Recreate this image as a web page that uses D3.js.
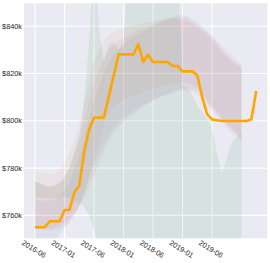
<!DOCTYPE html>
<html>
<head>
<meta charset="utf-8">
<script src="https://cdn.jsdelivr.net/npm/d3@7"></script>
<style>
body { margin: 0; background: #fff; }
svg { display: block; }
text { font-family: "Liberation Sans", Arial, sans-serif; fill: #262626; }
</style>
</head>
<body>
<svg width="270" height="263"></svg>
<script>
// x is a month index, 0 = 2016-06
const tickMonths = [0, 6, 12, 18, 24, 30, 36];
const tickLabels = ["2016-06", "2017-01", "2017-06", "2018-01", "2018-06", "2019-01", "2019-06"];
const yTicks = [760, 780, 800, 820, 840];

// monthly value, $k
const actual = [755, 755, 755, 757.5, 757.5, 757.5, 762.3, 762.3, 769.8, 772.6,
  787, 796.3, 801.4, 801.4, 801.4, 810.1, 819.2, 828.1, 828.1, 828.1,
  828.1, 832.4, 824.9, 828, 824.9, 824.9, 824.9, 824.9, 823.2, 823.2,
  820.9, 820.9, 820.9, 819.3, 810, 802.8, 800.6, 800.2, 799.9, 799.9,
  799.9, 799.9, 799.9, 799.9, 800.6, 812.6];

// forecast bands, sampled every 3 months
const bandMonths = [0, 3, 6, 9, 12, 15, 18, 21, 24, 27, 30, 33, 36, 39, 42];
const blueLow = [747.3, 748.1, 754.5, 764.2, 781.2, 793.9, 801.1, 805.3, 808.7, 811.2, 813.8, 812.9, 806.1, 798.9, 792.6];
const blueHigh = [766.3, 766.3, 770.6, 785.4, 808.7, 824.8, 832.4, 836.6, 840, 843, 844.7, 841.7, 835.8, 828.1, 823.1];
const orangeLow = [754.5, 753.6, 755.8, 764.2, 783.3, 803.6, 808.7, 811.2, 813.8, 815.4, 816.3, 813.8, 805.3, 798.5, 792.6];
const orangeHigh = [779, 777.4, 782.4, 798.1, 824.8, 836.2, 839.2, 840.8, 842.1, 843, 842.5, 840, 835.8, 829.8, 823.9];
const redLow = [754.5, 754.5, 757, 764.2, 776.9, 791.7, 799.4, 804.4, 808.7, 811.2, 812.9, 811.2, 804.4, 797.2, 790.9];
const redHigh = [774.4, 772.3, 776.9, 791.7, 816.3, 829.8, 834.9, 838.3, 840.8, 843.4, 843.8, 840, 834.1, 826.9, 822.2];

// the green band is monthly (months 0..42), it is noisy
const greenLow = [767.6, 767.6, 767.2, 767.2, 767.2, 767.6, 768, 767.6, 766.3, 765.1,
  763.4, 760, 753.7, 745.2, 735, 735, 735, 735, 735, 735,
  735, 735, 735, 735, 735, 735, 735, 735, 735, 735,
  735, 735, 735, 735, 735, 735, 735, 735, 735, 735,
  735, 735, 735];
const greenHigh = [774.4, 773.5, 772.3, 771.9, 772.3, 773.5, 775.7, 779.9, 786.7, 793.9,
  808.7, 833.2, 870, 838.7, 824.8, 832, 833.2, 829.8, 832, 870,
  870, 870, 870, 870, 870, 870, 870, 870, 870, 870,
  815, 813.8, 810.8, 806.6, 803.6, 801.1, 796.8, 786.2, 777.8, 784.1,
  790.9, 793, 794.7];

const svg = d3.select("svg");
const pLeft = 24, pRight = 267.3, pTop = 3.3, pBottom = 238.3;

const x = d3.scaleLinear().domain([-2.25, 47.25]).range([pLeft, pRight]);
const y = d3.scaleLinear().domain([750.3, 849.7]).range([pBottom, pTop]);

svg.append("defs").append("clipPath").attr("id", "plot")
  .append("rect")
  .attr("x", pLeft).attr("y", pTop)
  .attr("width", pRight - pLeft).attr("height", pBottom - pTop);

svg.append("rect")
  .attr("x", pLeft).attr("y", pTop)
  .attr("width", pRight - pLeft).attr("height", pBottom - pTop)
  .attr("fill", "#eaeaf2");

// grid
let grid = svg.append("g").attr("stroke", "#fff").attr("stroke-width", 1.1);
grid.selectAll(".gx").data(tickMonths).enter().append("line")
  .attr("x1", d => x(d)).attr("x2", d => x(d))
  .attr("y1", pTop).attr("y2", pBottom);
grid.selectAll(".gy").data(yTicks).enter().append("line")
  .attr("x1", pLeft).attr("x2", pRight)
  .attr("y1", d => y(d)).attr("y2", d => y(d));

let plot = svg.append("g").attr("clip-path", "url(#plot)");

function band(months, lo, hi, color, alpha, curve) {
  let rows = months.map((m, i) => ({ m: m, lo: lo[i], hi: hi[i] }));
  let area = d3.area()
    .x(d => x(d.m))
    .y0(d => y(d.lo))
    .y1(d => y(d.hi))
    .curve(curve);
  plot.append("path")
    .datum(rows)
    .attr("d", area)
    .attr("fill", color)
    .attr("fill-opacity", alpha);
}

band(bandMonths, blueLow, blueHigh, "#4c72b0", 0.08, d3.curveMonotoneX);
band(bandMonths, orangeLow, orangeHigh, "#dd8452", 0.08, d3.curveMonotoneX);
band(d3.range(greenLow.length), greenLow, greenHigh, "#55a868", 0.12, d3.curveLinear);
band(bandMonths, redLow, redHigh, "#c44e52", 0.07, d3.curveMonotoneX);

let line = d3.line()
  .x((d, i) => x(i))
  .y(d => y(d));

plot.append("path")
  .datum(actual)
  .attr("d", line)
  .attr("fill", "none")
  .attr("stroke", "#ffa500")
  .attr("stroke-width", 2.6)
  .attr("stroke-linejoin", "round");

// axis labels
svg.selectAll(".yl").data(yTicks).enter().append("text")
  .attr("x", pLeft - 2)
  .attr("y", d => y(d))
  .attr("dy", "0.35em")
  .attr("text-anchor", "end")
  .attr("font-size", 7.3)
  .text(d => "$" + d + "k");

svg.selectAll(".xl").data(tickMonths).enter().append("text")
  .attr("transform", d => "translate(" + (x(d) - 1) + ",249) rotate(32)")
  .attr("dy", "0.35em")
  .attr("text-anchor", "middle")
  .attr("font-size", 7.3)
  .text((d, i) => tickLabels[i]);
</script>
</body>
</html>
